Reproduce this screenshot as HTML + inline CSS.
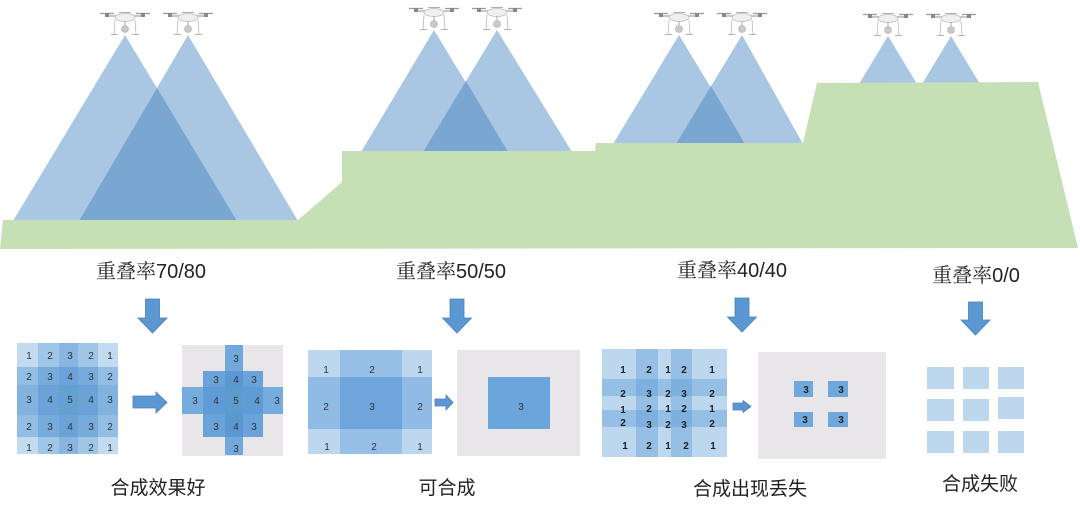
<!DOCTYPE html>
<html>
<head>
<meta charset="utf-8">
<style>
html,body{margin:0;padding:0;background:#fff;}
body{width:1080px;height:508px;overflow:hidden;}
svg{display:block;}
.lbl{font-family:"Liberation Sans","Noto Sans CJK SC",sans-serif;font-size:20px;fill:#222;}
.ser{font-family:"Noto Serif CJK SC","Liberation Serif",serif;}
.bl{font-family:"Liberation Sans","Noto Sans CJK SC",sans-serif;font-size:19px;fill:#222;}
.n{font-family:"Liberation Sans",sans-serif;font-size:10px;fill:#333;}
.nb{font-family:"Liberation Sans",sans-serif;font-size:10px;fill:#222;font-weight:bold;}
</style>
</head>
<body>
<svg width="1080" height="508" viewBox="0 0 1080 508" xmlns="http://www.w3.org/2000/svg">
<defs>
<g id="drone">
  <line x1="-18" y1="-20" x2="18" y2="-20" stroke="#c8c8c8" stroke-width="2"/>
  <line x1="-25" y1="-22.5" x2="-11" y2="-22.5" stroke="#9a9a9a" stroke-width="1.3"/>
  <line x1="11" y1="-22.5" x2="25" y2="-22.5" stroke="#9a9a9a" stroke-width="1.3"/>
  <rect x="-20" y="-23" width="4" height="4" fill="#888"/>
  <rect x="16" y="-23" width="4" height="4" fill="#888"/>
  <line x1="-6" y1="-23.5" x2="6" y2="-23.5" stroke="#b0b0b0" stroke-width="1"/>
  <ellipse cx="0" cy="-18.5" rx="10" ry="4" fill="#efefef" stroke="#bdbdbd" stroke-width="0.8"/>
  <line x1="-10" y1="-16" x2="-11" y2="-1.5" stroke="#b8b8b8" stroke-width="0.8"/>
  <line x1="10" y1="-16" x2="11" y2="-1.5" stroke="#b8b8b8" stroke-width="0.8"/>
  <line x1="-14" y1="-1.5" x2="-7" y2="-1.5" stroke="#aaa" stroke-width="0.9"/>
  <line x1="7" y1="-1.5" x2="14" y2="-1.5" stroke="#aaa" stroke-width="0.9"/>
  <line x1="0" y1="-15" x2="0" y2="-10" stroke="#aaa" stroke-width="1"/>
  <circle cx="0" cy="-7" r="3.5" fill="#c9c9c9" stroke="#aaa" stroke-width="0.6"/>
</g>
</defs>

<!-- beams -->
<g fill="#a9c7e3">
  <polygon points="125,35 13,221 237,221"/>
  <polygon points="188,35 79,221 298,221"/>
  <polygon points="434,30 361,152 508,152"/>
  <polygon points="497,30 423,152 572,152"/>
  <polygon points="679,35 613,144 745,144"/>
  <polygon points="742,35 676,144 803,144"/>
  <polygon points="888,36 859,84 917,84"/>
  <polygon points="951,36 922,84 980,84"/>
</g>
<g fill="#7aa7d2">
  <polygon points="157,88 79,221 237,221"/>
  <polygon points="466,81 423,152 508,152"/>
  <polygon points="711,86 676,144 745,144"/>
</g>

<!-- ground -->
<polygon fill="#c5e0b4" points="3,220 298,220 342,182 342,151 595,151 596,143 803,143 817,83 1038,82 1078,248 0,249"/>

<!-- drones -->
<use href="#drone" x="125" y="36"/>
<use href="#drone" x="188" y="36"/>
<use href="#drone" x="434" y="31"/>
<use href="#drone" x="497" y="31"/>
<use href="#drone" x="679" y="36"/>
<use href="#drone" x="742" y="36"/>
<use href="#drone" x="888" y="37"/>
<use href="#drone" x="951" y="37"/>

<!-- top labels -->
<text class="lbl" x="151" y="278" text-anchor="middle"><tspan class="ser">重叠率</tspan>70/80</text>
<text class="lbl" x="451" y="278" text-anchor="middle"><tspan class="ser">重叠率</tspan>50/50</text>
<text class="lbl" x="732" y="277" text-anchor="middle"><tspan class="ser">重叠率</tspan>40/40</text>
<text class="lbl" x="976" y="282" text-anchor="middle"><tspan class="ser">重叠率</tspan>0/0</text>

<!-- down arrows -->
<g fill="#5b97d3" stroke="#4a80b8" stroke-width="0.8">
  <polygon points="145.5,299 159.5,299 159.5,318 167,318 152.5,333 138,318 145.5,318"/>
  <polygon points="450,299 464,299 464,318 471.5,318 457,333 442.5,318 450,318"/>
  <polygon points="735,298 749,298 749,317 756.5,317 742,332 727.5,317 735,317"/>
  <polygon points="968.5,302 982.5,302 982.5,320 990,320 975.5,335 961,320 968.5,320"/>
</g>

<!-- ===== Grid 1 ===== -->
<g>
  <!-- row 1 -->
  <rect x="17" y="343" width="21" height="24" fill="#c3dbf0"/>
  <rect x="38" y="343" width="21" height="24" fill="#9fc5e7"/>
  <rect x="59" y="343" width="19" height="24" fill="#88b6e0"/>
  <rect x="78" y="343" width="20" height="24" fill="#9fc5e7"/>
  <rect x="98" y="343" width="20" height="24" fill="#c3dbf0"/>
  <!-- row 2 -->
  <rect x="17" y="367" width="21" height="18" fill="#92bde4"/>
  <rect x="38" y="367" width="21" height="18" fill="#77abdb"/>
  <rect x="59" y="367" width="19" height="18" fill="#6ba2d7"/>
  <rect x="78" y="367" width="20" height="18" fill="#77abdb"/>
  <rect x="98" y="367" width="20" height="18" fill="#92bde4"/>
  <!-- row 3 -->
  <rect x="17" y="385" width="21" height="30" fill="#82b3df"/>
  <rect x="38" y="385" width="21" height="30" fill="#6ba3d8"/>
  <rect x="59" y="385" width="19" height="30" fill="#63a2cf"/>
  <rect x="78" y="385" width="20" height="30" fill="#6ba3d8"/>
  <rect x="98" y="385" width="20" height="30" fill="#82b3df"/>
  <!-- row 4 -->
  <rect x="17" y="415" width="21" height="22" fill="#92bde4"/>
  <rect x="38" y="415" width="21" height="22" fill="#77abdb"/>
  <rect x="59" y="415" width="19" height="22" fill="#6ba2d7"/>
  <rect x="78" y="415" width="20" height="22" fill="#77abdb"/>
  <rect x="98" y="415" width="20" height="22" fill="#92bde4"/>
  <!-- row 5 -->
  <rect x="17" y="437" width="21" height="17" fill="#c3dbf0"/>
  <rect x="38" y="437" width="21" height="17" fill="#9fc5e7"/>
  <rect x="59" y="437" width="19" height="17" fill="#88b6e0"/>
  <rect x="78" y="437" width="20" height="17" fill="#9fc5e7"/>
  <rect x="98" y="437" width="20" height="17" fill="#c3dbf0"/>
</g>
<g class="n" text-anchor="middle">
  <text x="29" y="359">1</text><text x="50" y="359">2</text><text x="70" y="359">3</text><text x="91" y="359">2</text><text x="110" y="359">1</text>
  <text x="29" y="380">2</text><text x="50" y="380">3</text><text x="70" y="380">4</text><text x="91" y="380">3</text><text x="110" y="380">2</text>
  <text x="29" y="403">3</text><text x="50" y="403">4</text><text x="70" y="403">5</text><text x="91" y="403">4</text><text x="110" y="403">3</text>
  <text x="29" y="430">2</text><text x="50" y="430">3</text><text x="70" y="430">4</text><text x="91" y="430">3</text><text x="110" y="430">2</text>
  <text x="29" y="451">1</text><text x="50" y="451">2</text><text x="70" y="451">3</text><text x="91" y="451">2</text><text x="110" y="451">1</text>
</g>

<!-- right arrow 1 -->
<polygon points="133,396 156,396 156,392 167,402.5 156,413 156,408 133,408" fill="#5b97d3" stroke="#4a80b8" stroke-width="0.8"/>

<!-- result 1 -->
<rect x="182" y="345" width="101" height="111" fill="#e8e6e9"/>
<g>
  <rect x="225" y="345" width="18" height="26" fill="#72a9dc"/>
  <rect x="203" y="371" width="22" height="16" fill="#6aa3d9"/>
  <rect x="225" y="371" width="18" height="16" fill="#5b98d2"/>
  <rect x="243" y="371" width="20" height="16" fill="#6aa3d9"/>
  <rect x="182" y="387" width="21" height="27" fill="#75abdd"/>
  <rect x="203" y="387" width="22" height="27" fill="#5f9bd4"/>
  <rect x="225" y="387" width="18" height="27" fill="#5c9ccd"/>
  <rect x="243" y="387" width="20" height="27" fill="#5f9bd4"/>
  <rect x="263" y="387" width="20" height="27" fill="#75abdd"/>
  <rect x="203" y="414" width="22" height="23" fill="#6aa3d9"/>
  <rect x="225" y="414" width="18" height="23" fill="#5b98d2"/>
  <rect x="243" y="414" width="20" height="23" fill="#6aa3d9"/>
  <rect x="225" y="437" width="18" height="18" fill="#72a9dc"/>
</g>
<g class="n" text-anchor="middle">
  <text x="236" y="362">3</text>
  <text x="216" y="383">3</text><text x="236" y="383">4</text><text x="254" y="383">3</text>
  <text x="195" y="404">3</text><text x="216" y="404">4</text><text x="236" y="404">5</text><text x="257" y="404">4</text><text x="277" y="404">3</text>
  <text x="216" y="430">3</text><text x="236" y="430">4</text><text x="254" y="430">3</text>
  <text x="236" y="452">3</text>
</g>

<!-- ===== Grid 2 ===== -->
<g>
  <rect x="308" y="350" width="32" height="27" fill="#bdd7ee"/>
  <rect x="340" y="350" width="62" height="27" fill="#97c0e6"/>
  <rect x="402" y="350" width="30" height="27" fill="#bdd7ee"/>
  <rect x="308" y="377" width="32" height="52" fill="#8fbbe4"/>
  <rect x="340" y="377" width="62" height="52" fill="#6ea6db"/>
  <rect x="402" y="377" width="30" height="52" fill="#8fbbe4"/>
  <rect x="308" y="429" width="32" height="25" fill="#bdd7ee"/>
  <rect x="340" y="429" width="62" height="25" fill="#97c0e6"/>
  <rect x="402" y="429" width="30" height="25" fill="#bdd7ee"/>
</g>
<g class="n" text-anchor="middle">
  <text x="326" y="373">1</text><text x="372" y="373">2</text><text x="420" y="373">1</text>
  <text x="326" y="410">2</text><text x="372" y="410">3</text><text x="420" y="410">2</text>
  <text x="327" y="450">1</text><text x="374" y="450">2</text><text x="420" y="450">1</text>
</g>
<polygon points="435,399 446,399 446,395 453,402.5 446,410 446,406 435,406" fill="#5b97d3" stroke="#4a80b8" stroke-width="0.8"/>
<rect x="457" y="350" width="123" height="106" fill="#e8e6e9"/>
<rect x="488" y="377" width="62" height="52" fill="#6aa5dc"/>
<text class="n" x="521" y="410" text-anchor="middle">3</text>

<!-- ===== Grid 3 ===== -->
<rect x="602" y="349" width="125" height="108" fill="#bdd7ee"/>
<g fill="rgba(91,155,213,0.4)">
  <rect x="636" y="349" width="22" height="108"/>
  <rect x="671" y="349" width="21" height="108"/>
  <rect x="602" y="379" width="125" height="17"/>
  <rect x="602" y="410" width="125" height="17"/>
</g>
<g class="nb" text-anchor="middle">
  <text x="623" y="373">1</text><text x="649" y="373">2</text><text x="668" y="373">1</text><text x="684" y="373">2</text><text x="712" y="373">1</text>
  <text x="623" y="397">2</text><text x="649" y="397">3</text><text x="668" y="397">2</text><text x="684" y="397">3</text><text x="712" y="397">2</text>
  <text x="623" y="413">1</text><text x="649" y="412">2</text><text x="668" y="412">1</text><text x="684" y="412">2</text><text x="712" y="412">1</text>
  <text x="623" y="426">2</text><text x="649" y="428">3</text><text x="668" y="428">2</text><text x="684" y="428">3</text><text x="712" y="427">2</text>
  <text x="625" y="449">1</text><text x="649" y="449">2</text><text x="668" y="449">1</text><text x="686" y="449">2</text><text x="713" y="449">1</text>
</g>
<polygon points="733,403 743,403 743,400.5 751,406.5 743,412.5 743,410 733,410" fill="#5b97d3" stroke="#4a80b8" stroke-width="0.8"/>
<rect x="758" y="352" width="128" height="107" fill="#e8e6e9"/>
<g fill="#6fa8dc">
  <rect x="794" y="381" width="19" height="16"/>
  <rect x="828" y="381" width="20" height="16"/>
  <rect x="794" y="412" width="19" height="15"/>
  <rect x="828" y="412" width="20" height="15"/>
</g>
<g class="nb" text-anchor="middle">
  <text x="806" y="393">3</text><text x="841" y="393">3</text>
  <text x="805" y="423">3</text><text x="841" y="423">3</text>
</g>

<!-- ===== Grid 4 ===== -->
<g fill="#bdd7ee">
  <rect x="927" y="367" width="27" height="22"/>
  <rect x="963" y="367" width="26" height="22"/>
  <rect x="998" y="367" width="26" height="22"/>
  <rect x="927" y="399" width="27" height="22"/>
  <rect x="963" y="399" width="26" height="22"/>
  <rect x="998" y="397" width="26" height="22"/>
  <rect x="927" y="431" width="27" height="22"/>
  <rect x="963" y="431" width="26" height="22"/>
  <rect x="998" y="431" width="26" height="22"/>
</g>

<!-- bottom labels -->
<text class="bl" x="158" y="494" text-anchor="middle">合成效果好</text>
<text class="bl" x="447" y="494" text-anchor="middle">可合成</text>
<text class="bl" x="750" y="495" text-anchor="middle">合成出现丢失</text>
<text class="bl" x="980" y="490" text-anchor="middle">合成失败</text>
</svg>
</body>
</html>
